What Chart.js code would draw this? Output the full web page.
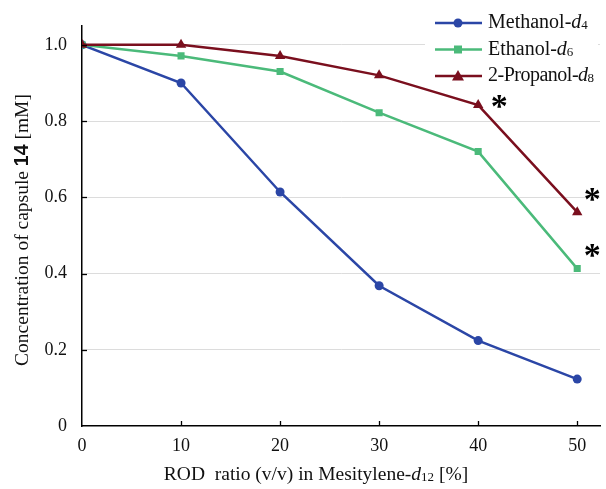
<!DOCTYPE html>
<html>
<head>
<meta charset="utf-8">
<script src="https://cdn.jsdelivr.net/npm/chart.js@4.4.1/dist/chart.umd.min.js"></script>
<style>
  html, body { margin: 0; padding: 0; background: #fff; }
  .wrap { width: 606px; height: 489px; position: relative; }
</style>
</head>
<body>
<div class="wrap"><canvas id="chart"></canvas></div>
<script>
// ROD ratio (v/v) in Mesitylene-d12 [%]
const rodRatio = [0, 10, 20, 30, 40, 50];
const methanolD4 = [1.0, 0.90, 0.614, 0.368, 0.224, 0.123];
const ethanolD6 = [1.0, 0.971, 0.93, 0.822, 0.72, 0.413];
const propanolD8 = [1.0, 1.0, 0.971, 0.92, 0.842, 0.561];
const xTicks = [0, 10, 20, 30, 40, 50];
const yTicks = [0, 0.2, 0.4, 0.6, 0.8, 1.0];
// asterisks: [dataset index, point index]
const starred = [[2, 4], [2, 5], [1, 5]];

const SERIF = '"Liberation Serif", "DejaVu Serif", serif';
const SANS = '"Liberation Sans", Arial, sans-serif';

// legend names split into plain / italic / subscript parts
const legendNames = [
  ['Methanol-', 'd', '4'],
  ['Ethanol-', 'd', '6'],
  ['2-Propanol-', 'd', '8']
];

function drawRich(ctx, segs, x, y, align) {
  let total = 0;
  segs.forEach(s => { ctx.font = s.font; s.w = ctx.measureText(s.text).width; total += s.w; });
  let cx = align === 'center' ? x - total / 2 : x;
  ctx.textAlign = 'left';
  segs.forEach(s => {
    ctx.font = s.font;
    ctx.fillText(s.text, cx, y + (s.dy || 0));
    cx += s.w;
  });
}

const extrasPlugin = {
  id: 'extras',
  beforeDatasetsDraw(chart) {
    // legend box hides the grid behind it, lines pass over it
    const ctx = chart.ctx;
    ctx.save();
    ctx.fillStyle = '#fff';
    ctx.fillRect(425, 8, 173, 82);
    ctx.restore();
  },
  afterDraw(chart) {
    const ctx = chart.ctx;
    const xs = chart.scales.x, ys = chart.scales.y;
    const area = chart.chartArea;
    ctx.save();

    // inward tick marks
    ctx.strokeStyle = '#000';
    ctx.lineWidth = 1.3;
    yTicks.forEach(v => {
      if (v === 0) return;
      const py = Math.round(ys.getPixelForValue(v)) + 0.5;
      ctx.beginPath(); ctx.moveTo(area.left, py); ctx.lineTo(area.left + 5, py); ctx.stroke();
    });
    xTicks.forEach(v => {
      if (v === 0) return;
      const px = Math.round(xs.getPixelForValue(v)) + 0.5;
      ctx.beginPath(); ctx.moveTo(px, area.bottom); ctx.lineTo(px, area.bottom - 5); ctx.stroke();
    });

    // asterisks
    ctx.fillStyle = '#000';
    ctx.font = 'bold 34px ' + SERIF;
    ctx.textAlign = 'center';
    ctx.textBaseline = 'middle';
    starred.forEach(([di, pi]) => {
      const d = chart.data.datasets[di].data[pi];
      const px = xs.getPixelForValue(rodRatio[pi]);
      const py = ys.getPixelForValue(d);
      if (pi === 4) ctx.fillText('*', px + 21, py + 3);
      else ctx.fillText('*', px + 15, py - 11);
    });

    // legend
    ctx.textBaseline = 'middle';
    chart.data.datasets.forEach((ds, i) => {
      const ly = 23 + i * 26.5;
      ctx.strokeStyle = ds.borderColor;
      ctx.lineWidth = 2.5;
      ctx.beginPath(); ctx.moveTo(435, ly); ctx.lineTo(482, ly); ctx.stroke();
      ctx.fillStyle = ds.borderColor;
      const mx = 458;
      ctx.beginPath();
      if (ds.pointStyle === 'circle') ctx.arc(mx, ly, 4.5, 0, Math.PI * 2);
      else if (ds.pointStyle === 'rect') ctx.rect(mx - 4, ly - 4, 8, 8);
      else { ctx.moveTo(mx, ly - 6); ctx.lineTo(mx + 6, ly + 4.5); ctx.lineTo(mx - 6, ly + 4.5); ctx.closePath(); }
      ctx.fill();
      ctx.fillStyle = '#111';
      ctx.letterSpacing = i === 2 ? '-0.5px' : '0px';
      const n = legendNames[i];
      drawRich(ctx, [
        { text: n[0], font: '20px ' + SERIF },
        { text: n[1], font: 'italic 20px ' + SERIF },
        { text: n[2], font: '13px ' + SERIF, dy: 3 }
      ], 488, ly, 'left');
    });
    ctx.letterSpacing = '0px';

    // axis titles
    ctx.fillStyle = '#111';
    ctx.textBaseline = 'middle';
    drawRich(ctx, [
      { text: 'ROD  ratio (v/v) in Mesitylene-', font: '19.5px ' + SERIF },
      { text: 'd', font: 'italic 19.5px ' + SERIF },
      { text: '12', font: '13px ' + SERIF, dy: 3 },
      { text: ' [%]', font: '19.5px ' + SERIF }
    ], 316, 475, 'center');

    ctx.translate(23, 230);
    ctx.rotate(-Math.PI / 2);
    drawRich(ctx, [
      { text: 'Concentration of capsule ', font: '19.5px ' + SERIF },
      { text: '14', font: 'bold 19.5px ' + SANS },
      { text: ' [mM]', font: '19.5px ' + SERIF }
    ], 0, 0, 'center');

    ctx.restore();
  }
};

function mkSet(label, values, color, style, radius, order) {
  return {
    label: label,
    data: values,
    borderColor: color,
    backgroundColor: color,
    borderWidth: 2.5,
    pointStyle: style,
    pointRadius: radius,
    pointHoverRadius: radius,
    pointBorderWidth: 0,
    tension: 0,
    fill: false,
    order: order
  };
}

new Chart(document.getElementById('chart'), {
  type: 'line',
  data: {
    labels: rodRatio,
    datasets: [
      mkSet('Methanol-d4', methanolD4, '#2b46a6', 'circle', 4.5, 3),
      mkSet('Ethanol-d6', ethanolD6, '#4bba7a', 'rect', 5, 2),
      mkSet('2-Propanol-d8', propanolD8, '#7a0f1e', 'triangle', 6, 1)
    ]
  },
  options: {
    responsive: true,
    maintainAspectRatio: false,
    animation: false,
    layout: { padding: { top: 24, right: 1, left: 0, bottom: 0 } },
    plugins: { legend: { display: false }, tooltip: { enabled: false } },
    scales: {
      x: {
        type: 'linear',
        min: 0,
        max: 52.3,
        afterBuildTicks: s => { s.ticks = xTicks.map(v => ({ value: v })); },
        afterFit: s => { s.height = 63; },
        grid: { drawOnChartArea: false, drawTicks: false },
        border: { color: '#000', width: 1.5 },
        ticks: { color: '#111', padding: 9, font: { family: SERIF, size: 18 }, maxRotation: 0 }
      },
      y: {
        min: 0,
        max: 1.05,
        afterBuildTicks: s => { s.ticks = yTicks.map(v => ({ value: v })); },
        afterFit: s => { s.width = 82; },
        grid: {
          drawTicks: false,
          color: c => (c.tick && c.tick.value === 0) ? 'rgba(0,0,0,0)' : '#dcdcdc',
          lineWidth: 1
        },
        border: { color: '#000', width: 1.5 },
        ticks: {
          color: '#111',
          padding: 15,
          font: { family: SERIF, size: 18 },
          callback: v => v === 0 ? '0' : v.toFixed(1)
        }
      }
    }
  },
  plugins: [extrasPlugin]
});
</script>
</body>
</html>
